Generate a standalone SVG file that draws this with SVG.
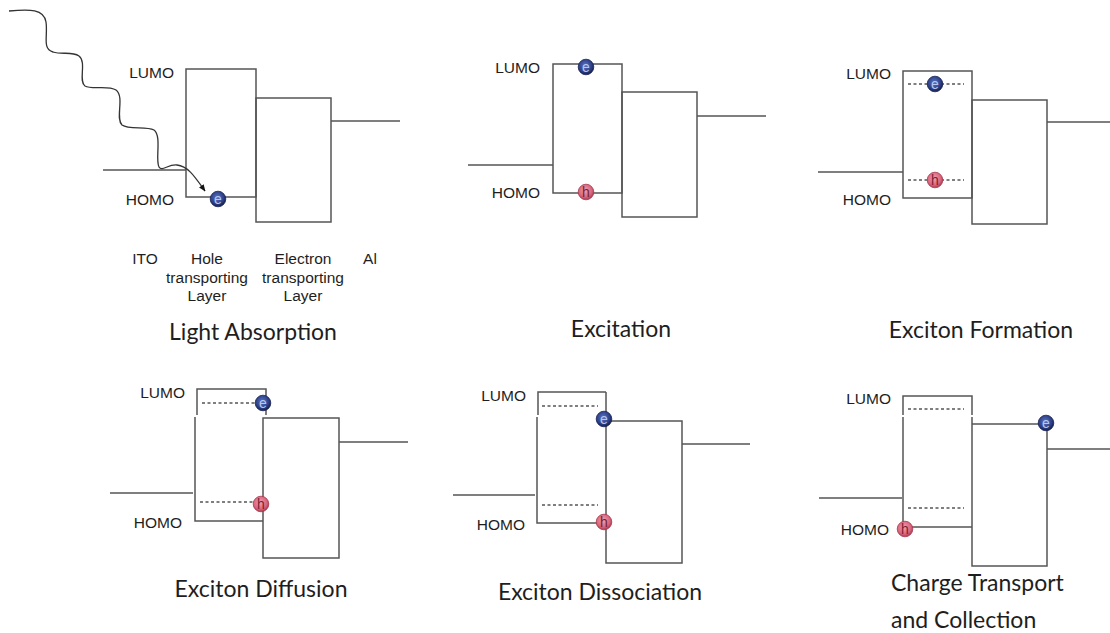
<svg xmlns="http://www.w3.org/2000/svg" width="1110" height="633" viewBox="0 0 1110 633">
  <defs>
    <radialGradient id="gradE" cx="0.45" cy="0.4" r="0.6">
      <stop offset="0" stop-color="#5a74c4"/>
      <stop offset="0.7" stop-color="#2c3f86"/>
      <stop offset="1" stop-color="#141d4a"/>
    </radialGradient>
    <radialGradient id="gradH" cx="0.45" cy="0.4" r="0.6">
      <stop offset="0" stop-color="#f2a0b0"/>
      <stop offset="0.7" stop-color="#d9657c"/>
      <stop offset="1" stop-color="#a83a50"/>
    </radialGradient>
    <marker id="arrow" viewBox="0 0 10 10" refX="9" refY="5" markerWidth="7" markerHeight="7" orient="auto" markerUnits="userSpaceOnUse">
      <path d="M0,1 L10,5 L0,9 z" fill="#111"/>
    </marker>
  </defs>
  <style>
    .ln { fill: none; stroke: #555; stroke-width: 1.5; }
    .dash { fill: none; stroke: #555; stroke-width: 1.3; stroke-dasharray: 3 2.5; }
    .lbl { font-family: "Liberation Sans", Arial, sans-serif; font-size: 15.5px; fill: #1e1e1e; }
    .mid { text-anchor: middle; }
    .end { text-anchor: end; }
    .title { font-family: Lato, "Open Sans", sans-serif; font-size: 23px; fill: #1e1e1e; }
    .e circle { fill: url(#gradE); stroke: #1b2456; stroke-width: 0.8; }
    .e text { font-family: "Liberation Sans", Arial, sans-serif; font-size: 14px; fill: #b8c6ee; text-anchor: middle; }
    .h circle { fill: url(#gradH); stroke: #a83a50; stroke-width: 0.8; }
    .h text { font-family: "Liberation Sans", Arial, sans-serif; font-size: 14px; fill: #7a1e30; text-anchor: middle; }
  </style>
  <rect width="1110" height="633" fill="#ffffff"/>

  <!-- Light absorption -->
  <g id="panel-absorption">
    <path class="ln" d="M103,170 H186"/>
    <rect class="ln" x="186" y="69" width="70" height="128"/>
    <rect class="ln" x="256" y="98" width="75" height="124"/>
    <path class="ln" d="M331,121 H400"/>
    <path fill="none" stroke="#333" stroke-width="1.3" marker-end="url(#arrow)"
          d="M9,11 C30,9 44,9 46,22 C48,36 42,49 53,52 C62,55 72,51 79,56 C87,62 78,81 85,86 C92,90 108,85 116,90 C125,97 115,118 122,125 C129,130 146,126 154,130 C162,136 155,160 159,167 C162,172 168,164 177,165 C188,166 195,177 205,191"/>
    <g class="e">
      <circle cx="218" cy="199" r="7.8" stroke="#c0507a"/>
      <text x="218" y="204">e</text>
    </g>
    <text class="lbl end" x="174" y="78">LUMO</text>
    <text class="lbl end" x="174" y="205">HOMO</text>
    <text class="lbl mid" x="145" y="264">ITO</text>
    <text class="lbl mid" x="207" y="264">Hole</text>
    <text class="lbl mid" x="207" y="283">transporting</text>
    <text class="lbl mid" x="207" y="301">Layer</text>
    <text class="lbl mid" x="303" y="264">Electron</text>
    <text class="lbl mid" x="303" y="283">transporting</text>
    <text class="lbl mid" x="303" y="301">Layer</text>
    <text class="lbl mid" x="370" y="264">Al</text>
    <text class="title mid" x="253" y="340">Light Absorption</text>
  </g>

  <!-- Excitation -->
  <g id="panel-excitation">
    <path class="ln" d="M468,165 H553"/>
    <rect class="ln" x="553" y="64" width="69" height="129"/>
    <rect class="ln" x="622" y="92" width="75" height="125"/>
    <path class="ln" d="M697,116 H766"/>
    <g class="e"><circle cx="586" cy="67" r="7.8"/><text x="586" y="72">e</text></g>
    <g class="h"><circle cx="586" cy="192" r="7.8"/><text x="586" y="197">h</text></g>
    <text class="lbl end" x="540" y="73">LUMO</text>
    <text class="lbl end" x="540" y="198">HOMO</text>
    <text class="title mid" x="621" y="337">Excitation</text>
  </g>

  <!-- Exciton formation -->
  <g id="panel-formation">
    <path class="ln" d="M818,172 H903"/>
    <rect class="ln" x="903" y="71" width="69" height="127"/>
    <rect class="ln" x="972" y="100" width="75" height="124"/>
    <path class="ln" d="M1047,122 H1110"/>
    <path class="dash" d="M908,84 H964 M908,180 H964"/>
    <g class="e"><circle cx="935" cy="84" r="7.8"/><text x="935" y="89">e</text></g>
    <g class="h"><circle cx="935" cy="180" r="7.8"/><text x="935" y="185">h</text></g>
    <text class="lbl end" x="891" y="79">LUMO</text>
    <text class="lbl end" x="891" y="205">HOMO</text>
    <text class="title mid" x="981" y="338">Exciton Formation</text>
  </g>

  <!-- Exciton diffusion -->
  <g id="panel-diffusion">
    <path class="ln" d="M110,493 H193"/>
    <path class="ln" d="M197,415 V389 H266 V415"/>
    <path class="ln" d="M195,417 V521 H263"/>
    <rect class="ln" x="263" y="418" width="76" height="140"/>
    <path class="ln" d="M339,442 H408"/>
    <path class="dash" d="M202,403 H257 M200,502 H255"/>
    <g class="e"><circle cx="263" cy="403" r="7.8"/><text x="263" y="408">e</text></g>
    <g class="h"><circle cx="261" cy="504" r="7.8"/><text x="261" y="509">h</text></g>
    <text class="lbl end" x="185" y="398">LUMO</text>
    <text class="lbl end" x="182" y="528">HOMO</text>
    <text class="title mid" x="261" y="597">Exciton Diffusion</text>
  </g>

  <!-- Exciton dissociation -->
  <g id="panel-dissociation">
    <path class="ln" d="M453,495 H535"/>
    <path class="ln" d="M538,415 V392 H606"/>
    <path class="ln" d="M537,417 V523 H606"/>
    <path class="ln" d="M606,392 V563 H682 V421 H606"/>
    <path class="ln" d="M682,444 H750"/>
    <path class="dash" d="M542,406 H598 M542,505 H598"/>
    <g class="e"><circle cx="604" cy="419" r="7.8"/><text x="604" y="424">e</text></g>
    <g class="h"><circle cx="604" cy="522" r="7.8"/><text x="604" y="527">h</text></g>
    <text class="lbl end" x="526" y="401">LUMO</text>
    <text class="lbl end" x="525" y="530">HOMO</text>
    <text class="title mid" x="600" y="600">Exciton Dissociation</text>
  </g>

  <!-- Charge transport and collection -->
  <g id="panel-transport">
    <path class="ln" d="M819,498 H902"/>
    <path class="ln" d="M903,415 V396 H972 V415"/>
    <path class="ln" d="M903,417 V527 H972"/>
    <path class="ln" d="M972,417 V566 H1047 V424 H972"/>
    <path class="ln" d="M1047,449 H1110"/>
    <path class="dash" d="M908,409 H964 M908,508 H964"/>
    <g class="e"><circle cx="1046" cy="423" r="7.8"/><text x="1046" y="428">e</text></g>
    <g class="h"><circle cx="905" cy="529" r="7.8"/><text x="905" y="534">h</text></g>
    <text class="lbl end" x="891" y="404">LUMO</text>
    <text class="lbl end" x="889" y="535">HOMO</text>
    <text class="title" x="891" y="591">Charge Transport</text>
    <text class="title" x="891" y="628">and Collection</text>
  </g>
</svg>
